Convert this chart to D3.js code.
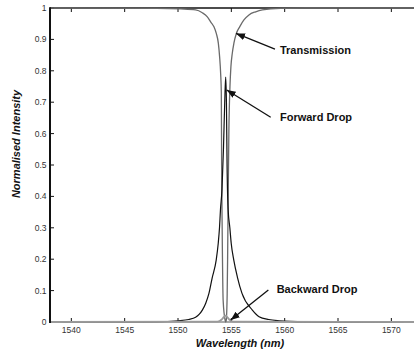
<!DOCTYPE html>
<html>
<head>
<meta charset="utf-8">
<script src="https://cdn.jsdelivr.net/npm/d3@7/dist/d3.min.js"></script>
<style>
  html, body { margin: 0; padding: 0; background: #fff; }
  svg { display: block; font-family: "Liberation Sans", Arial, sans-serif; }
</style>
</head>
<body>
<svg id="chart" width="414" height="351"></svg>
<script>
// Wavelength samples (nm) and normalised intensities of each port
const transWl = [1538, 1548, 1550.25, 1551.65, 1552.28, 1552.75, 1553.06, 1553.37, 1553.59, 1553.78, 1553.90, 1554.00, 1554.06, 1554.09, 1554.14, 1554.23, 1554.42, 1554.47, 1554.52, 1554.61, 1554.65, 1554.70, 1554.77, 1554.87, 1554.96, 1555.09, 1555.24, 1555.47, 1555.78, 1556.18, 1556.65, 1557.28, 1557.91, 1559.62, 1562, 1574];
const transVal = [1.0, 0.999, 0.997, 0.994, 0.985, 0.972, 0.956, 0.940, 0.919, 0.888, 0.845, 0.79, 0.73, 0.5, 0.3, 0.07, 0.005, 0.0, 0.005, 0.09, 0.2, 0.39, 0.61, 0.749, 0.813, 0.856, 0.888, 0.919, 0.94, 0.962, 0.978, 0.988, 0.994, 0.999, 1.0, 1.0];

const fwdWl = [1538, 1548, 1550, 1551, 1551.65, 1552.0, 1552.28, 1552.6, 1552.9, 1553.2, 1553.58, 1553.77, 1553.89, 1553.98, 1554.12, 1554.26, 1554.38, 1554.47, 1554.54, 1554.6, 1554.7, 1554.86, 1554.99, 1555.23, 1555.56, 1556.0, 1556.97, 1557.6, 1558.5, 1559.5, 1560.5, 1562, 1574];
const fwdVal = [0, 0.001, 0.004, 0.008, 0.015, 0.025, 0.038, 0.06, 0.091, 0.14, 0.197, 0.25, 0.30, 0.357, 0.42, 0.55, 0.70, 0.78, 0.70, 0.5, 0.357, 0.30, 0.25, 0.197, 0.144, 0.091, 0.038, 0.017, 0.008, 0.004, 0.002, 0.001, 0];

const bwdWl = [1538, 1553.7, 1554.1, 1554.3, 1554.47, 1554.6, 1554.8, 1555.2, 1574];
const bwdVal = [0, 0.001, 0.008, 0.016, 0.02, 0.016, 0.008, 0.001, 0];

const xTicks = [1540, 1545, 1550, 1555, 1560, 1565, 1570];
const yTicks = [0, 0.1, 0.2, 0.3, 0.4, 0.5, 0.6, 0.7, 0.8, 0.9, 1];
const yTickLabels = ["0", "0.1", "0.2", "0.3", "0.4", "0.5", "0.6", "0.7", "0.8", "0.9", "1"];

// Callouts: label, arrow tip and tail in data units
const calloutLabels = ["Transmission", "Forward Drop", "Backward Drop"];
const calloutTipWl = [1555.44, 1554.57, 1554.94];
const calloutTipVal = [0.919, 0.739, 0.006];
const calloutTailWl = [1559.09, 1558.69, 1558.47];
const calloutTailVal = [0.869, 0.652, 0.102];
const calloutTextWl = [1559.56, 1559.56, 1559.25];
const calloutTextVal = [0.853, 0.639, 0.091];

const svg = d3.select("#chart");
const plotLeft = 50, plotTop = 8, plotBottom = 322;
const x = d3.scaleLinear().domain([1538, 1574]).range([plotLeft, plotLeft + 36 * 10.667]);
const y = d3.scaleLinear().domain([0, 1]).range([plotBottom, plotTop]);

svg.append("rect").attr("width", 414).attr("height", 351).attr("fill", "#fff");

const line = d3.line()
  .x(d => x(d[0]))
  .y(d => y(d[1]))
  .curve(d3.curveMonotoneX);

const zip = (a, b) => a.map((v, i) => [v, b[i]]);

// Box: top border and bottom axis
svg.append("line").attr("x1", plotLeft).attr("x2", 414).attr("y1", plotTop).attr("y2", plotTop)
  .attr("stroke", "#111").attr("stroke-width", 1.5);
svg.append("line").attr("x1", plotLeft).attr("x2", 414).attr("y1", plotBottom).attr("y2", plotBottom)
  .attr("stroke", "#555").attr("stroke-width", 1);

// Inward ticks
const g = svg.append("g");
g.selectAll(".xb").data(xTicks).join("line")
  .attr("x1", d => x(d)).attr("x2", d => x(d)).attr("y1", plotBottom).attr("y2", plotBottom - 4)
  .attr("stroke", "#111").attr("stroke-width", 1);
g.selectAll(".xt").data(xTicks).join("line")
  .attr("x1", d => x(d)).attr("x2", d => x(d)).attr("y1", plotTop).attr("y2", plotTop + 4)
  .attr("stroke", "#111").attr("stroke-width", 1);
g.selectAll(".yl").data(yTicks).join("line")
  .attr("x1", plotLeft).attr("x2", plotLeft + 4).attr("y1", d => y(d)).attr("y2", d => y(d))
  .attr("stroke", "#111").attr("stroke-width", 1);

// Curves
svg.append("path").datum(zip(transWl, transVal)).attr("d", line)
  .attr("fill", "none").attr("stroke", "#6a6a6a").attr("stroke-width", 1.3);
svg.append("path").datum(zip(fwdWl, fwdVal)).attr("d", line)
  .attr("fill", "none").attr("stroke", "#111").attr("stroke-width", 1.2);
svg.append("path").datum(zip(bwdWl, bwdVal)).attr("d", line)
  .attr("fill", "none").attr("stroke", "#9a9a9a").attr("stroke-width", 1.8);

// Left axis line on top
svg.append("line").attr("x1", plotLeft).attr("x2", plotLeft).attr("y1", plotTop - 0.75).attr("y2", plotBottom + 1)
  .attr("stroke", "#111").attr("stroke-width", 2);

// Tick labels
svg.selectAll(".xlab").data(xTicks).join("text")
  .attr("x", d => x(d)).attr("y", 333)
  .attr("text-anchor", "middle").attr("font-size", 8.5).attr("fill", "#333")
  .text(d => d);
svg.selectAll(".ylab").data(yTicks).join("text")
  .attr("x", 46.5).attr("y", d => y(d) + 3)
  .attr("text-anchor", "end").attr("font-size", 8.5).attr("fill", "#333")
  .text((d, i) => yTickLabels[i]);

// Axis titles
svg.append("text").attr("x", 240).attr("y", 346.5)
  .attr("text-anchor", "middle").attr("font-size", 11)
  .attr("font-weight", "bold").attr("font-style", "italic").attr("fill", "#111")
  .text("Wavelength (nm)");
svg.append("text").attr("transform", "translate(19.5,144) rotate(-90)")
  .attr("text-anchor", "middle").attr("font-size", 11)
  .attr("font-weight", "bold").attr("font-style", "italic").attr("fill", "#111")
  .text("Normalised Intensity");

// Callout arrows and labels
svg.append("defs").append("marker")
  .attr("id", "head").attr("markerUnits", "userSpaceOnUse")
  .attr("markerWidth", 10).attr("markerHeight", 8)
  .attr("refX", 9).attr("refY", 3.5).attr("orient", "auto")
  .append("path").attr("d", "M0,0 L9,3.5 L0,7 Z").attr("fill", "#111");

calloutLabels.forEach((label, i) => {
  svg.append("line")
    .attr("x1", x(calloutTailWl[i])).attr("y1", y(calloutTailVal[i]))
    .attr("x2", x(calloutTipWl[i])).attr("y2", y(calloutTipVal[i]))
    .attr("stroke", "#111").attr("stroke-width", 1.3)
    .attr("marker-end", "url(#head)");
  svg.append("text")
    .attr("x", x(calloutTextWl[i])).attr("y", y(calloutTextVal[i]))
    .attr("font-size", 11).attr("font-weight", "bold").attr("fill", "#111")
    .text(label);
});
</script>
</body>
</html>
